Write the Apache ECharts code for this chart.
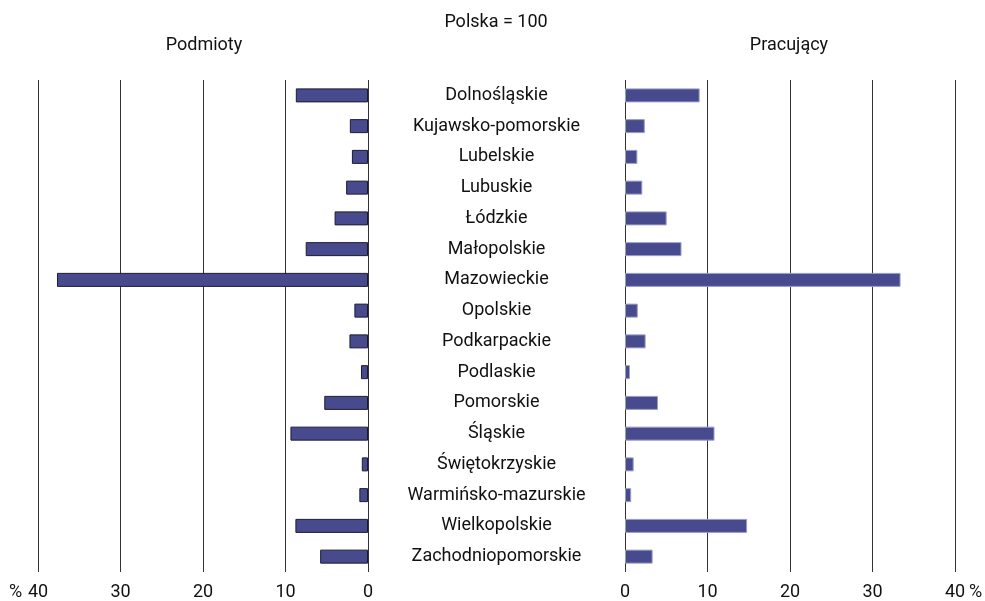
<!DOCTYPE html>
<html>
<head>
<meta charset="utf-8">
<script src="https://cdn.jsdelivr.net/npm/echarts@6/dist/echarts.min.js"></script>
<style>html,body{margin:0;padding:0;background:#fff}#c{width:985px;height:601px}</style>
</head>
<body>
<div id="c"></div>
<script>
const categories = ['Dolnośląskie','Kujawsko-pomorskie','Lubelskie','Lubuskie','Łódzkie','Małopolskie','Mazowieckie','Opolskie','Podkarpackie','Podlaskie','Pomorskie','Śląskie','Świętokrzyskie','Warmińsko-mazurskie','Wielkopolskie','Zachodniopomorskie'];
const podmioty = [8.75, 2.2, 1.95, 2.65, 4.05, 7.55, 37.7, 1.65, 2.25, 0.85, 5.3, 9.4, 0.75, 1.05, 8.8, 5.8];
const pracujacy = [9.05, 2.4, 1.5, 2.1, 5.05, 6.85, 33.4, 1.55, 2.5, 0.6, 4.0, 10.85, 1.05, 0.75, 14.8, 3.35];
const axisMin = 0, axisMax = 40, axisStep = 10;
const titleMain = 'Polska = 100';
const titleLeft = 'Podmioty';
const titleRight = 'Pracujący';

const FONT = 'Roboto';
const TXT = '#111';
const FILL = '#474b8d';
const chart = echarts.init(document.getElementById('c'), null, {renderer: 'canvas'});
const splitLine = {show: true, lineStyle: {color: '#333', width: 1}};
const tStyle = {fontFamily: FONT, fontSize: 18, fontWeight: 'normal', color: TXT};
chart.setOption({
  animation: false,
  backgroundColor: '#fff',
  title: [
    {text: titleMain, left: 496, top: 13, padding: 0, textAlign: 'center', textStyle: tStyle},
    {text: titleLeft, left: 204, top: 36, padding: 0, textAlign: 'center', textStyle: tStyle},
    {text: titleRight, left: 789, top: 36, padding: 0, textAlign: 'center', textStyle: tStyle}
  ],
  graphic: [
    {type: 'text', left: 9, top: 583, style: {text: '%', font: '18px Roboto', fill: TXT}},
    {type: 'text', left: 969, top: 583, style: {text: '%', font: '18px Roboto', fill: TXT}}
  ],
  grid: [
    {left: 38, width: 330, top: 80, height: 492},
    {left: 625, width: 330, top: 80, height: 492}
  ],
  xAxis: [
    {gridIndex: 0, type: 'value', inverse: true, min: axisMin, max: axisMax, interval: axisStep,
     axisLine: {show: false}, axisTick: {show: false}, splitLine: splitLine,
     axisLabel: {fontFamily: FONT, fontSize: 18, color: TXT, margin: 11}},
    {gridIndex: 1, type: 'value', min: axisMin, max: axisMax, interval: axisStep,
     axisLine: {show: false}, axisTick: {show: false}, splitLine: splitLine,
     axisLabel: {fontFamily: FONT, fontSize: 18, color: TXT, margin: 11}}
  ],
  yAxis: [
    {gridIndex: 0, type: 'category', data: categories, inverse: true,
     axisLine: {show: false}, axisTick: {show: false}, axisLabel: {show: false}},
    {gridIndex: 1, type: 'category', data: categories, inverse: true,
     axisLine: {show: false}, axisTick: {show: false},
     axisLabel: {fontFamily: FONT, fontSize: 18, color: TXT, align: 'center', margin: 128.5, padding: [2, 0, 0, 0]}}
  ],
  series: [
    {type: 'bar', xAxisIndex: 0, yAxisIndex: 0, data: podmioty, barWidth: 14,
     itemStyle: {color: FILL, borderColor: '#1c1c30', borderWidth: 1}},
    {type: 'bar', xAxisIndex: 1, yAxisIndex: 1, data: pracujacy, barWidth: 14,
     itemStyle: {color: FILL, borderColor: '#9a9cc8', borderWidth: 1}}
  ]
});
</script>
</body>
</html>
